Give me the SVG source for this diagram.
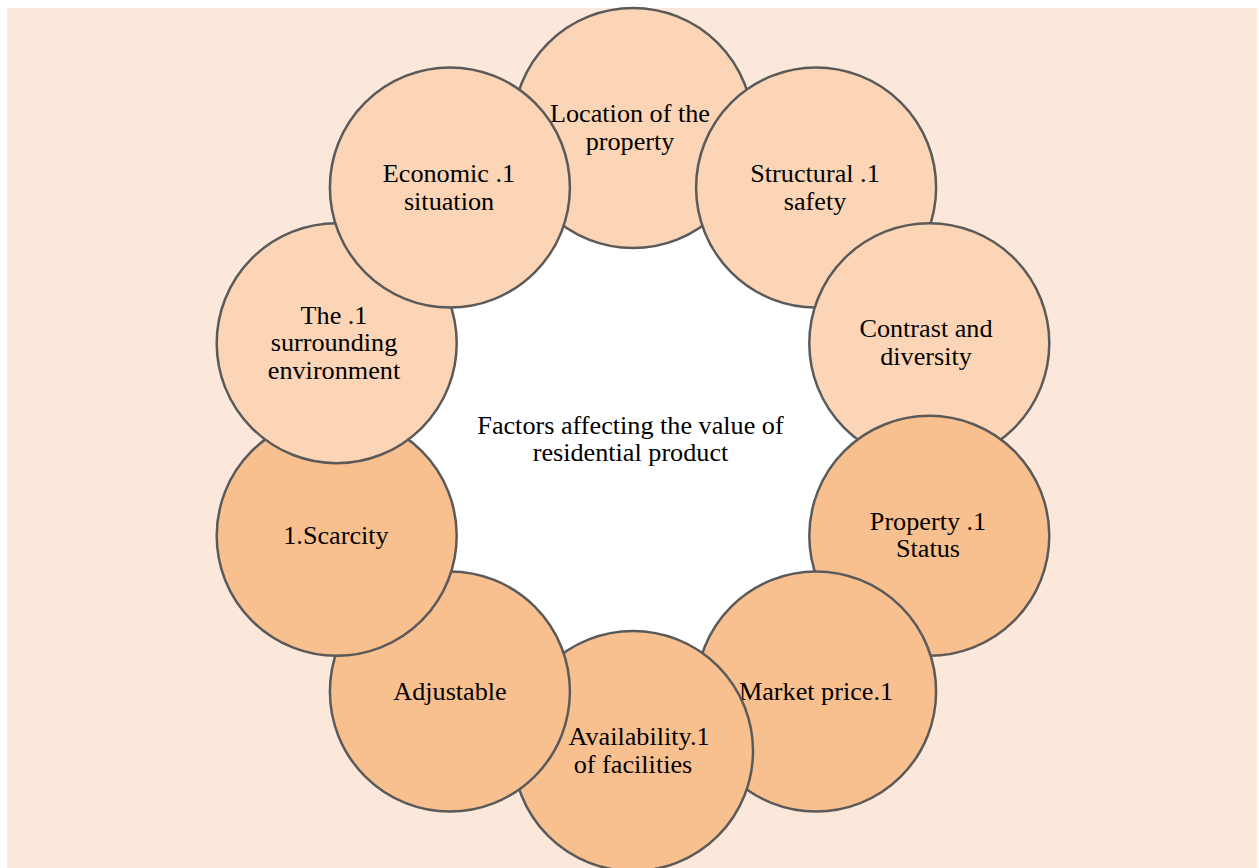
<svg xmlns="http://www.w3.org/2000/svg" width="1259" height="868" viewBox="0 0 1259 868">
<style>
.bg{fill:#FBE8DA}
.c{stroke:#5A5A5A;stroke-width:2.5}
.l{fill:#FBD5B5}
.d{fill:#F9C08F}
text{font-family:"Liberation Serif","Times New Roman",serif;font-size:26.2px;fill:#000;text-anchor:middle}
</style>
<rect x="7" y="8" width="1250" height="860" class="bg"/>
<circle cx="633" cy="440" r="300" fill="#FFFFFF"/>
<g id="connectors"></g>
<g id="n-location"><circle class="c l" cx="633" cy="128" r="120"/><text x="630" y="122">Location of the</text><text x="630" y="149.5">property</text></g>
<g id="n-structural"><circle class="c l" cx="816.1" cy="187.5" r="120"/><text x="815" y="182">Structural .1</text><text x="815" y="209.5">safety</text></g>
<g id="n-contrast"><circle class="c l" cx="929.3" cy="343.2" r="120"/><text x="926" y="337">Contrast and</text><text x="926" y="364.5">diversity</text></g>
<g id="n-status"><circle class="c d" cx="929.3" cy="535.8" r="120"/><text x="928" y="529.5">Property .1</text><text x="928" y="557">Status</text></g>
<g id="n-market"><circle class="c d" cx="816.1" cy="691.5" r="120"/><text x="816" y="700">Market price.1</text></g>
<g id="n-availability"><circle class="c d" cx="633" cy="751" r="120"/><text x="639" y="745">Availability.1</text><text x="633" y="772.5">of facilities</text></g>
<g id="n-adjustable"><circle class="c d" cx="449.9" cy="691.5" r="120"/><text x="450" y="700">Adjustable</text></g>
<g id="n-scarcity"><circle class="c d" cx="336.7" cy="535.8" r="120"/><text x="336" y="544">1.Scarcity</text></g>
<g id="n-surrounding"><circle class="c l" cx="336.7" cy="343.2" r="120"/><text x="334" y="323.5">The .1</text><text x="334" y="351">surrounding</text><text x="334" y="378.5">environment</text></g>
<g id="n-economic"><circle class="c l" cx="449.9" cy="187.5" r="120"/><text x="449" y="182">Economic .1</text><text x="449" y="209.5">situation</text></g>
<g id="n-center"><text x="630.5" y="433.5">Factors affecting the value of</text><text x="630.5" y="461">residential product</text></g>
</svg>
